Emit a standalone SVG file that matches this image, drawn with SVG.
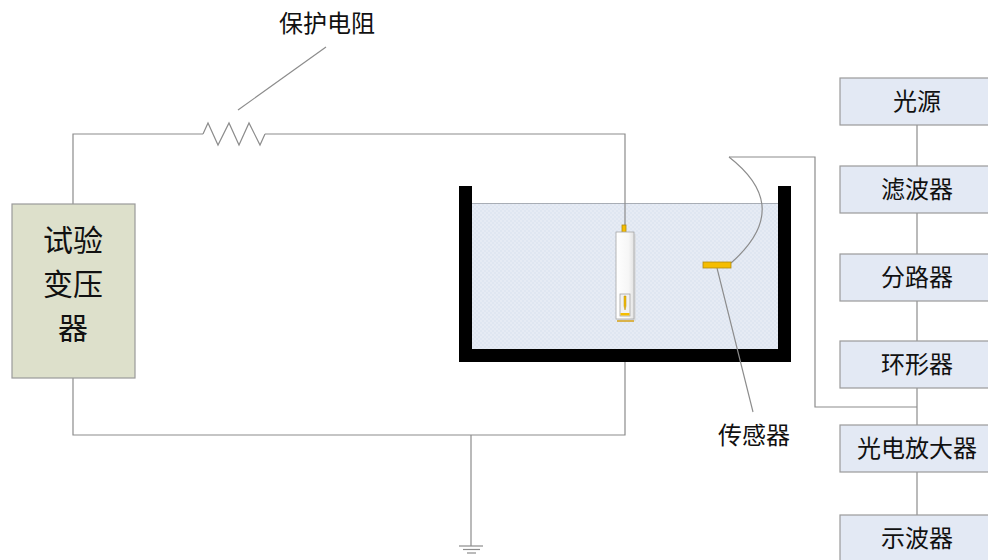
<svg xmlns="http://www.w3.org/2000/svg" width="988" height="560" viewBox="0 0 988 560">
  <defs>
    <style>
      text { font-family: "Noto Sans CJK SC", "Noto Sans", sans-serif; fill: #111; }
      .wire { fill: none; stroke: #8c8c8c; stroke-width: 1.2; }
      .box { fill: #e3e9f4; stroke: #9a9a9a; stroke-width: 1.2; }
      .lbl { font-size: 24px; text-anchor: middle; }
      .big { font-size: 30px; text-anchor: middle; }
      .orange { fill: #f5bd00; stroke: #b08a10; stroke-width: 0.8; }
    </style>
    <pattern id="water" width="4" height="4" patternUnits="userSpaceOnUse">
      <rect width="4" height="4" fill="#dfe6f1"/>
      <rect width="2" height="2" fill="#e6ebf4"/>
      <rect x="2" y="2" width="2" height="2" fill="#e6ebf4"/>
    </pattern>
    <linearGradient id="probeGrad" x1="0" y1="0" x2="1" y2="0">
      <stop offset="0" stop-color="#ffffff"/>
      <stop offset="0.7" stop-color="#f6f6f6"/>
      <stop offset="1" stop-color="#e2e2e2"/>
    </linearGradient>
  </defs>

  <g id="tank">
    <rect x="472" y="203" width="306" height="146" fill="url(#water)"/>
    <line x1="472" y1="203.5" x2="778" y2="203.5" stroke="#a8adb5" stroke-width="1"/>
    <path d="M459,186 H472 V349 H778 V186 H791 V362 H459 Z" fill="#000"/>
  </g>

  <!-- circuit wiring -->
  <g id="connectors">
    <polyline class="wire" points="73,204 73,134 203,134"/>
    <polyline class="wire" points="203,134 208,123 218,145 229,123 239,145 249,123 260,145 265,134"/>
    <polyline class="wire" points="265,134 625,134 625,225"/>
    <polyline class="wire" points="73,378 73,435 625,435 625,362"/>
    <line class="wire" x1="471" y1="435" x2="471" y2="546"/>
    <line class="wire" x1="459" y1="546" x2="483" y2="546"/>
    <line class="wire" x1="463" y1="549.5" x2="480" y2="549.5"/>
    <line class="wire" x1="467" y1="553" x2="476" y2="553"/>
    <!-- label leaders -->
    <line class="wire" x1="238" y1="110" x2="326" y2="47"/>
    <line class="wire" x1="717" y1="268" x2="753" y2="412"/>
    <!-- sensor fibre -->
    <path class="wire" d="M731,263 C780,220 765,185 729,157"/>
    <polyline class="wire" points="729,157 815,157 815,407 917,407"/>
    <!-- optical chain -->
    <line class="wire" x1="917" y1="125" x2="917" y2="166"/>
    <line class="wire" x1="917" y1="213" x2="917" y2="254"/>
    <line class="wire" x1="917" y1="301" x2="917" y2="341"/>
    <line class="wire" x1="917" y1="388" x2="917" y2="425"/>
    <line class="wire" x1="917" y1="472" x2="917" y2="515"/>
  </g>

  <g id="transformer">
    <rect x="12" y="204" width="123" height="174" fill="#dde0cb" stroke="#9a9a9a" stroke-width="1.2"/>
    <text class="big"><tspan x="73" y="251">试验</tspan><tspan x="73" y="295">变压</tspan><tspan x="73" y="339">器</tspan></text>
  </g>

  <g id="resistor-label">
    <text x="327" y="32" class="lbl">保护电阻</text>
  </g>

  <g id="electrode">
    <rect x="622" y="225" width="4" height="8" class="orange"/>
    <rect x="618" y="234" width="18" height="87" fill="#d8d8d8" opacity="0.6"/>
    <rect x="617" y="320" width="17" height="2" fill="#d9b24a"/>
    <rect x="616" y="232" width="18" height="87" fill="url(#probeGrad)" stroke="#a5a5a5" stroke-width="0.8"/>
    <rect x="620" y="294" width="10" height="22" fill="#f2f2f2" stroke="#a5a5a5" stroke-width="0.8"/>
    <path d="M624,296 H626 V306 L625,310 L624,306 Z" fill="#f5bd00" stroke="#b08a10" stroke-width="0.5"/>
    <rect x="620.5" y="313" width="9" height="2.5" fill="#f5bd00"/>
  </g>

  <g id="sensor">
    <rect x="703" y="262" width="28" height="6" class="orange"/>
    <text x="754" y="444" class="lbl">传感器</text>
  </g>

  <g id="light-source">
    <rect class="box" x="840" y="78" width="155" height="47"/>
    <text x="917" y="110" class="lbl">光源</text>
  </g>
  <g id="filter">
    <rect class="box" x="840" y="166" width="155" height="47"/>
    <text x="917" y="198" class="lbl">滤波器</text>
  </g>
  <g id="splitter">
    <rect class="box" x="840" y="254" width="155" height="47"/>
    <text x="917" y="286" class="lbl">分路器</text>
  </g>
  <g id="circulator">
    <rect class="box" x="840" y="341" width="155" height="47"/>
    <text x="917" y="373" class="lbl">环形器</text>
  </g>
  <g id="photo-amplifier">
    <rect class="box" x="840" y="425" width="155" height="47"/>
    <text x="917" y="457" class="lbl">光电放大器</text>
  </g>
  <g id="oscilloscope">
    <rect class="box" x="840" y="515" width="155" height="50"/>
    <text x="917" y="547" class="lbl">示波器</text>
  </g>
</svg>
